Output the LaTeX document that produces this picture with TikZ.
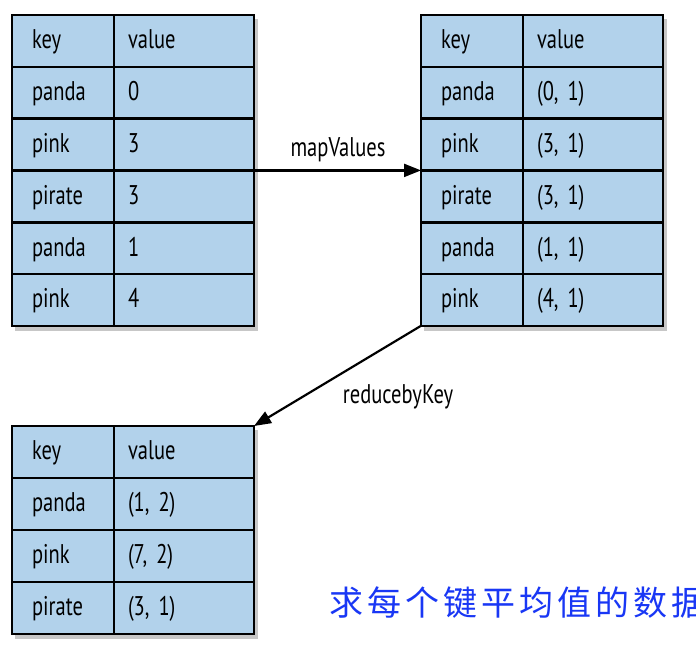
\documentclass[tikz,border=0pt]{standalone}
\usepackage{fontspec}
\setmainfont[FakeStretch=0.76]{PT Sans}
\newfontfamily\cjk[LetterSpace=12]{Noto Sans CJK SC}
\usetikzlibrary{arrows.meta}
\definecolor{cellblue}{RGB}{178,210,235}
\definecolor{cnblue}{RGB}{25,55,245}
\tikzset{
  cell/.style={draw=black, line width=2.6pt, fill=cellblue, minimum height=51.8pt,
    anchor=north west, inner sep=0pt, outer sep=0pt, align=left,
    font=\fontsize{27}{30}\selectfont, text height=18pt, text depth=2pt},
  keycell/.style={cell, minimum width=102pt, text width=62pt},
  valcell/.style={cell, minimum width=140pt, text width=112pt},
  shade/.style={fill=black, opacity=0.22},
  conn/.style={line width=2.2pt, -{Triangle[length=17pt,width=13pt]}},
  lbl/.style={font=\fontsize{27}{30}\selectfont, inner sep=0pt}
}
\begin{document}
\begin{tikzpicture}[x=1pt,y=-1pt]
\clip (0,0) rectangle (696,662);
\fill[white] (0,0) rectangle (696,662);
% shadows
\fill[shade] (15,19) rectangle (258,331);
\fill[shade] (424,19) rectangle (667,331);
\fill[shade] (15,430) rectangle (258,639);
% table 1
\foreach \k/\v [count=\i from 0] in {key/value, panda/0, pink/3, pirate/3, panda/1, pink/4} {
  \node[keycell] (ak\i) at (12,{15+51.8*\i}) {\k};
  \node[valcell] (av\i) at (114,{15+51.8*\i}) {\v};
}
% table 2
\foreach \k/\v [count=\i from 0] in {key/value, panda/{(0, 1)}, pink/{(3, 1)}, pirate/{(3, 1)}, panda/{(1, 1)}, pink/{(4, 1)}} {
  \node[keycell] (bk\i) at (421,{15+51.8*\i}) {\k};
  \node[valcell] (bv\i) at (523,{15+51.8*\i}) {\v};
}
% table 3
\foreach \k/\v [count=\i from 0] in {key/value, panda/{(1, 2)}, pink/{(7, 2)}, pirate/{(3, 1)}} {
  \node[keycell] (ck\i) at (12,{426+52*\i}) {\k};
  \node[valcell] (cv\i) at (114,{426+52*\i}) {\v};
}
% connectors
\draw[conn] (av2.south east) -- (bk2.south west);
\node[lbl] (lmap) at (338,150) {mapValues};
\draw[conn] (bk5.south west) -- (cv0.north east);
\node[lbl] (lred) at (398,397) {reducebyKey};
% caption
\node[anchor=west, inner sep=0pt, text=cnblue, font=\cjk\fontsize{34}{40}\selectfont] (cn) at (329,603) {求每个键平均值的数据};
\end{tikzpicture}
\end{document}
